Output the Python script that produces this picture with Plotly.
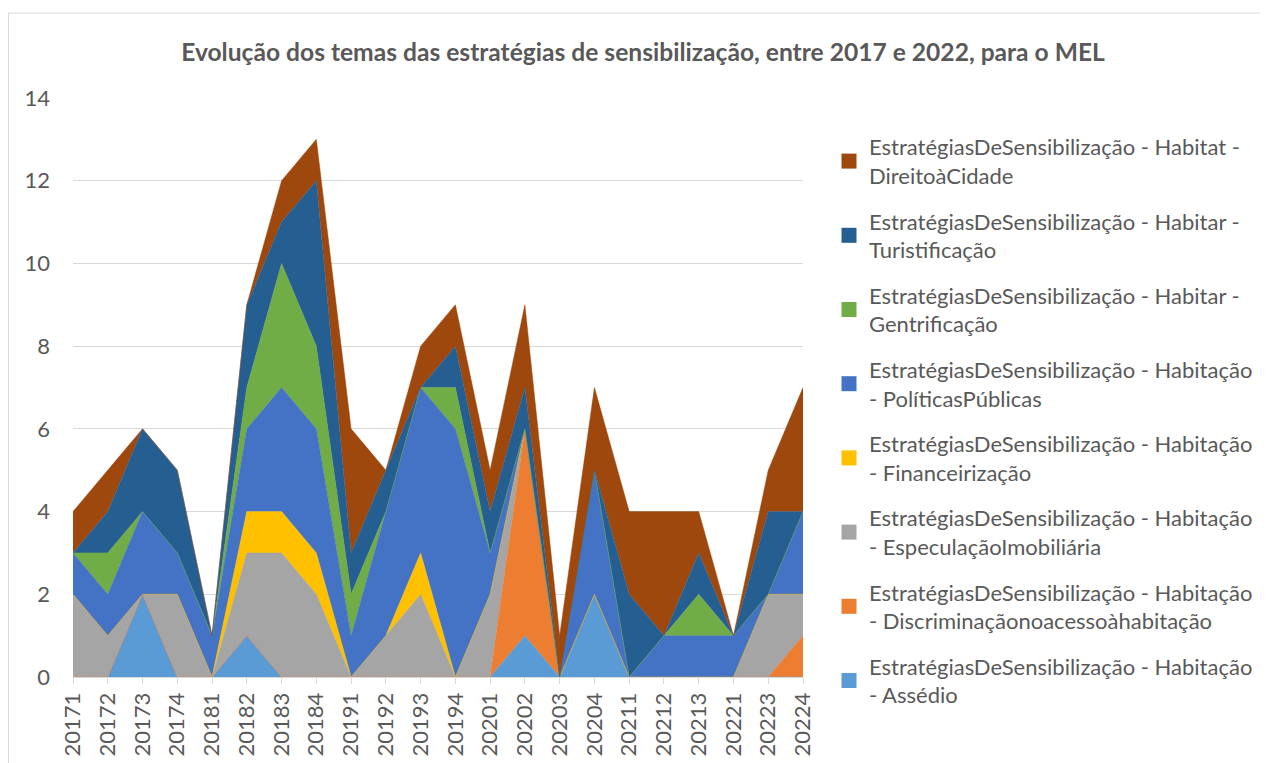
import plotly.graph_objects as go

categories = ["20171", "20172", "20173", "20174", "20181", "20182", "20183", "20184",
              "20191", "20192", "20193", "20194", "20201", "20202", "20203", "20204",
              "20211", "20212", "20213", "20221", "20223", "20224"]

assedio        = [0, 0, 2, 0, 0, 1, 0, 0, 0, 0, 0, 0, 0, 1, 0, 2, 0, 0, 0, 0, 0, 0]
discriminacao  = [0, 0, 0, 0, 0, 0, 0, 0, 0, 0, 0, 0, 0, 5, 0, 0, 0, 0, 0, 0, 0, 1]
especulacao    = [2, 1, 0, 2, 0, 2, 3, 2, 0, 1, 2, 0, 2, 0, 0, 0, 0, 0, 0, 0, 2, 1]
financeirizacao = [0, 0, 0, 0, 0, 1, 1, 1, 0, 0, 1, 0, 0, 0, 0, 0, 0, 0, 0, 0, 0, 0]
politicas      = [1, 1, 2, 1, 1, 2, 3, 3, 1, 3, 4, 6, 1, 0, 0, 3, 0, 1, 1, 1, 0, 2]
gentrificacao  = [0, 1, 0, 0, 0, 1, 3, 2, 1, 0, 0, 1, 0, 0, 0, 0, 0, 0, 1, 0, 0, 0]
turistificacao = [0, 1, 2, 2, 0, 2, 1, 4, 1, 1, 0, 1, 1, 1, 0, 0, 2, 0, 1, 0, 2, 0]
direito_cidade = [1, 1, 0, 0, 0, 0, 1, 1, 3, 0, 1, 1, 1, 2, 1, 2, 2, 3, 1, 0, 1, 3]

series_names = [
    "EstratégiasDeSensibilização - Habitação<br>- Assédio",
    "EstratégiasDeSensibilização - Habitação<br>- Discriminaçãonoacessoàhabitação",
    "EstratégiasDeSensibilização - Habitação<br>- EspeculaçãoImobiliária",
    "EstratégiasDeSensibilização - Habitação<br>- Financeirização",
    "EstratégiasDeSensibilização - Habitação<br>- PolíticasPúblicas",
    "EstratégiasDeSensibilização - Habitar -<br>Gentrificação",
    "EstratégiasDeSensibilização - Habitar -<br>Turistificação",
    "EstratégiasDeSensibilização - Habitat -<br>DireitoàCidade",
]
series_values = [assedio, discriminacao, especulacao, financeirizacao,
                 politicas, gentrificacao, turistificacao, direito_cidade]
colors = ["#5B9BD5", "#ED7D31", "#A5A5A5", "#FFC000",
          "#4472C4", "#70AD47", "#255E91", "#9E480E"]

fig = go.Figure()
for name, vals, col in zip(series_names, series_values, colors):
    fig.add_trace(go.Scatter(
        x=categories, y=vals, name=name, mode="lines",
        stackgroup="one", line=dict(color=col, width=0.5),
        fillcolor=col, showlegend=False,
    ))

# legend entries (square swatches), top to bottom as in the reference
for i, (name, col) in enumerate(reversed(list(zip(series_names, colors)))):
    fig.add_trace(go.Scatter(
        x=[None], y=[None], name=name, mode="markers",
        marker=dict(symbol="square", size=15, color=col),
        legendgroup=f"g{i}", showlegend=True,
    ))

font_family = "Lato, 'Open Sans', sans-serif"

W, H = 1260, 755
L, T, PW, PH = 65, 90, 730, 579
fig.update_layout(
    width=W, height=H,
    paper_bgcolor="white", plot_bgcolor="white",
    margin=dict(l=L, r=W - L - PW, t=T, b=H - T - PH, autoexpand=False),
    font=dict(family=font_family, color="#595959", size=22),
    title=dict(
        text="<b>Evolução dos temas das estratégias de sensibilização, entre 2017 e 2022, para o MEL</b>",
        x=635 / W, xref="container", xanchor="center",
        y=1 - 44 / H, yref="container", yanchor="middle",
        font=dict(size=24.6, color="#595959", family=font_family),
    ),
    legend=dict(
        x=(821 - L) / PW, xanchor="left",
        y=(T + PH - 118) / PH, yanchor="top",
        traceorder="grouped",
        tracegroupgap=14,
        maxheight=700,
        font=dict(size=22, color="#595959", family=font_family),
        bgcolor="rgba(0,0,0,0)",
    ),
    showlegend=True,
)

fig.update_xaxes(
    type="category", range=[0, len(categories) - 1],
    tickangle=-90, ticks="outside", ticklen=6, tickcolor="#D9D9D9",
    showline=True, linecolor="#D9D9D9", linewidth=1, automargin=False,
    showgrid=False, tickfont=dict(size=22, color="#595959"),
)
fig.update_yaxes(
    range=[0, 14], dtick=2, showgrid=True, gridcolor="#D9D9D9", gridwidth=1,
    zeroline=False, showline=False, ticks="", automargin=False,
    ticklabelstandoff=22, tickfont=dict(size=22, color="#595959"),
)

# chart border
fig.add_shape(
    type="rect", xref="paper", yref="paper",
    x0=(0.5 - L) / PW, x1=(W + 40 - L) / PW,
    y0=(T + PH - H - 40) / PH, y1=(T + PH - 5) / PH,
    line=dict(color="#D9D9D9", width=1), fillcolor="rgba(0,0,0,0)", layer="below",
)

fig.write_html("out.html")
